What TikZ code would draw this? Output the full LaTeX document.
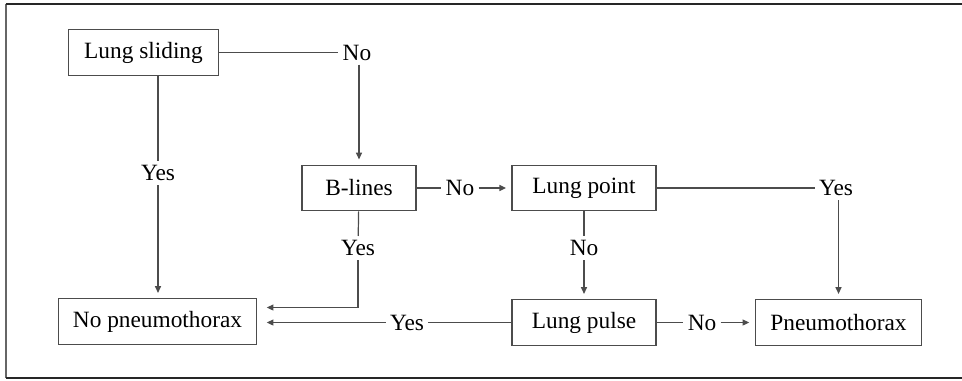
\documentclass[tikz,border=0pt]{standalone}
\usepackage{fontspec}
\setmainfont{Liberation Serif}
\usepackage{tikz}
\usetikzlibrary{arrows.meta,positioning}

\begin{document}
\begin{tikzpicture}[
		x=0.75pt,y=-0.75pt,
		font=\fontsize{17.5}{20}\selectfont,
		box/.style={draw=black!70,line width=0.9pt,minimum height=34pt,inner sep=2pt},
		lab/.style={inner sep=3pt},
		link/.style={draw=black!70,line width=0.9pt},
		oneway/.style={-{Triangle[length=5pt,width=4.5pt]},draw=black!70,line width=0.9pt,shorten >=4pt},
		backway/.style={-{Triangle[length=5pt,width=4.5pt]},draw=black!70,line width=0.9pt,shorten >=7pt}]
		\useasboundingbox (0,0) rectangle (962,380);
		% Draw frame
		\draw[black!60,line width=1.5pt] (6,378) -- (6,4);
		\draw[black!85,line width=1.2pt] (5.5,4) -- (962,4);
		\draw[black!85,line width=1.6pt] (5.5,378) -- (962,378);
		
		\node[box,minimum width=113pt] (slide) at (143.5,52.5) {Lung sliding};
		\node[box,minimum width=85.5pt] (blines) at (359,188) {B-lines};
		\node[box,minimum width=108pt] (lpoint) at (584,188) {Lung point};
		\node[box,minimum width=108pt] (lpulse) at (584,322.5) {Lung pulse};
		\node[box,minimum width=149pt] (nopneu) at (157.5,321.5) {No pneumothorax};
		\node[box,minimum width=125pt] (pneumo) at (838.5,322.5) {Pneumothorax};
		
		\node[lab] (no1) at (357,52.5) {No};
		\node[lab] (yes1) at (158,173) {Yes};
		\node[lab] (no2) at (460,188) {No};
		\node[lab] (yes2) at (358,248) {Yes};
		\node[lab] (no3) at (584,248) {No};
		\node[lab] (yes3) at (836,188) {Yes};
		\node[lab] (yes4) at (407,322.5) {Yes};
		\node[lab] (no4) at (702,322.5) {No};
		
		\draw[link] (slide) -- (no1);
		\draw[oneway] (no1.south -| blines.north) -- (blines.north);
		\draw[link] (yes1 |- slide.south) -- (yes1);
		\draw[oneway] (yes1) -- (yes1 |- nopneu.north);
		\draw[link] (blines) -- (no2);
		\draw[oneway] (no2) -- (lpoint);
		\draw[link] (blines) -- (yes2);
		\draw[backway] (yes2) |- ([yshift=10.5pt]nopneu.east);
		\draw[link] (lpoint) -- (yes3);
		\draw[oneway] (yes3.south -| pneumo.north) -- (pneumo.north);
		\draw[link] (lpoint) -- (no3);
		\draw[oneway] (no3) -- (lpulse);
		\draw[link] (lpulse) -- (yes4);
		\draw[backway] (yes4) -- (nopneu.east |- yes4);
		\draw[link] (lpulse) -- (no4);
		\draw[oneway] (no4) -- (pneumo);
		
\end{tikzpicture}
\end{document}
